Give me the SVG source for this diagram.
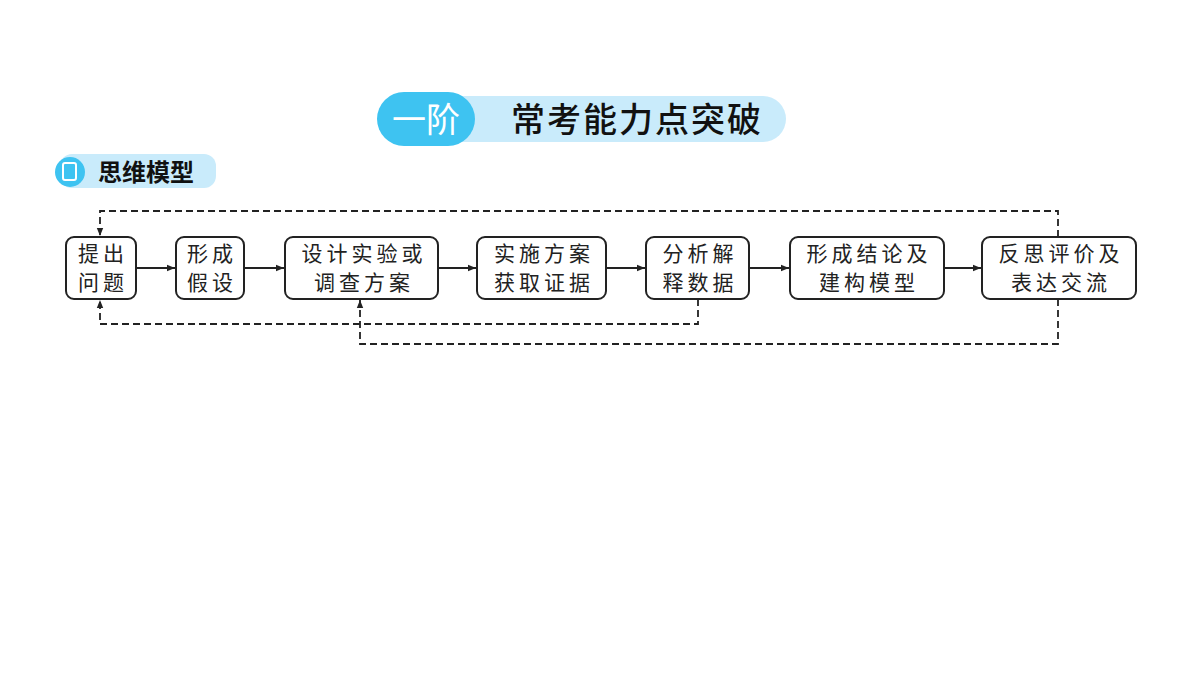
<svg xmlns="http://www.w3.org/2000/svg" width="1200" height="675" viewBox="0 0 1200 675">
<defs>
<style>
.box{fill:#fff;stroke:#222;stroke-width:2}
.t{font-family:"Noto Sans CJK SC",sans-serif;font-size:21px;fill:#222;text-anchor:middle;letter-spacing:4px}
.s{stroke:#222;stroke-width:2;fill:none}
.d{stroke:#222;stroke-width:1.8;fill:none;stroke-dasharray:7,4}
</style>
<marker id="a" viewBox="0 0 10 10" refX="10" refY="5" markerWidth="10" markerHeight="8" orient="auto" markerUnits="userSpaceOnUse"><path d="M0,1L10,5L0,9z" fill="#222"/></marker>
</defs>
<rect width="1200" height="675" fill="#fff"/>
<g id="banner">
<rect x="420" y="96" width="366" height="46" rx="23" fill="#c9ebfb"/>
<rect x="377" y="92" width="98" height="54" rx="27" fill="#3ec3f1"/>
<text x="426" y="132" font-family="Noto Sans CJK SC,sans-serif" font-size="34" fill="#fff" text-anchor="middle">一阶</text>
<text x="637" y="132" font-family="Noto Sans CJK SC,sans-serif" font-size="34" font-weight="500" fill="#111" text-anchor="middle" letter-spacing="2">常考能力点突破</text>
</g>
<g id="subtitle">
<rect x="60" y="154" width="156" height="34" rx="12" fill="#c9ebfb"/>
<circle cx="70" cy="172" r="15" fill="#3ec3f1"/>
<rect x="63" y="163" width="13" height="17" rx="2" fill="none" stroke="#fff" stroke-width="2"/>
<text x="146" y="181" font-family="Noto Sans CJK SC,sans-serif" font-size="24" font-weight="bold" fill="#111" text-anchor="middle">思维模型</text>
</g>
<g id="connectors">
<line class="s" x1="136" y1="268" x2="175" y2="268" marker-end="url(#a)"/>
<line class="s" x1="244" y1="268" x2="284" y2="268" marker-end="url(#a)"/>
<line class="s" x1="438" y1="268" x2="476" y2="268" marker-end="url(#a)"/>
<line class="s" x1="606" y1="268" x2="645" y2="268" marker-end="url(#a)"/>
<line class="s" x1="749" y1="268" x2="789" y2="268" marker-end="url(#a)"/>
<line class="s" x1="944" y1="268" x2="981" y2="268" marker-end="url(#a)"/>
<path class="d" d="M1058,237V211H100V236" marker-end="url(#a)"/>
<path class="d" d="M698,299V324H100V300" marker-end="url(#a)"/>
<path class="d" d="M1058,299V344H360V300" marker-end="url(#a)"/>
</g>
<g id="n1"><rect class="box" x="66" y="237" width="70" height="62" rx="8"/><text class="t" x="103" y="261">提出</text><text class="t" x="103" y="290">问题</text></g>
<g id="n2"><rect class="box" x="176" y="237" width="68" height="62" rx="8"/><text class="t" x="212" y="261">形成</text><text class="t" x="212" y="290">假设</text></g>
<g id="n3"><rect class="box" x="285" y="237" width="153" height="62" rx="8"/><text class="t" x="364" y="261">设计实验或</text><text class="t" x="364" y="290">调查方案</text></g>
<g id="n4"><rect class="box" x="477" y="237" width="129" height="62" rx="8"/><text class="t" x="544" y="261">实施方案</text><text class="t" x="544" y="290">获取证据</text></g>
<g id="n5"><rect class="box" x="646" y="237" width="103" height="62" rx="8"/><text class="t" x="700" y="261">分析解</text><text class="t" x="700" y="290">释数据</text></g>
<g id="n6"><rect class="box" x="790" y="237" width="154" height="62" rx="8"/><text class="t" x="869" y="261">形成结论及</text><text class="t" x="869" y="290">建构模型</text></g>
<g id="n7"><rect class="box" x="982" y="237" width="154" height="62" rx="8"/><text class="t" x="1061" y="261">反思评价及</text><text class="t" x="1061" y="290">表达交流</text></g>
</svg>
